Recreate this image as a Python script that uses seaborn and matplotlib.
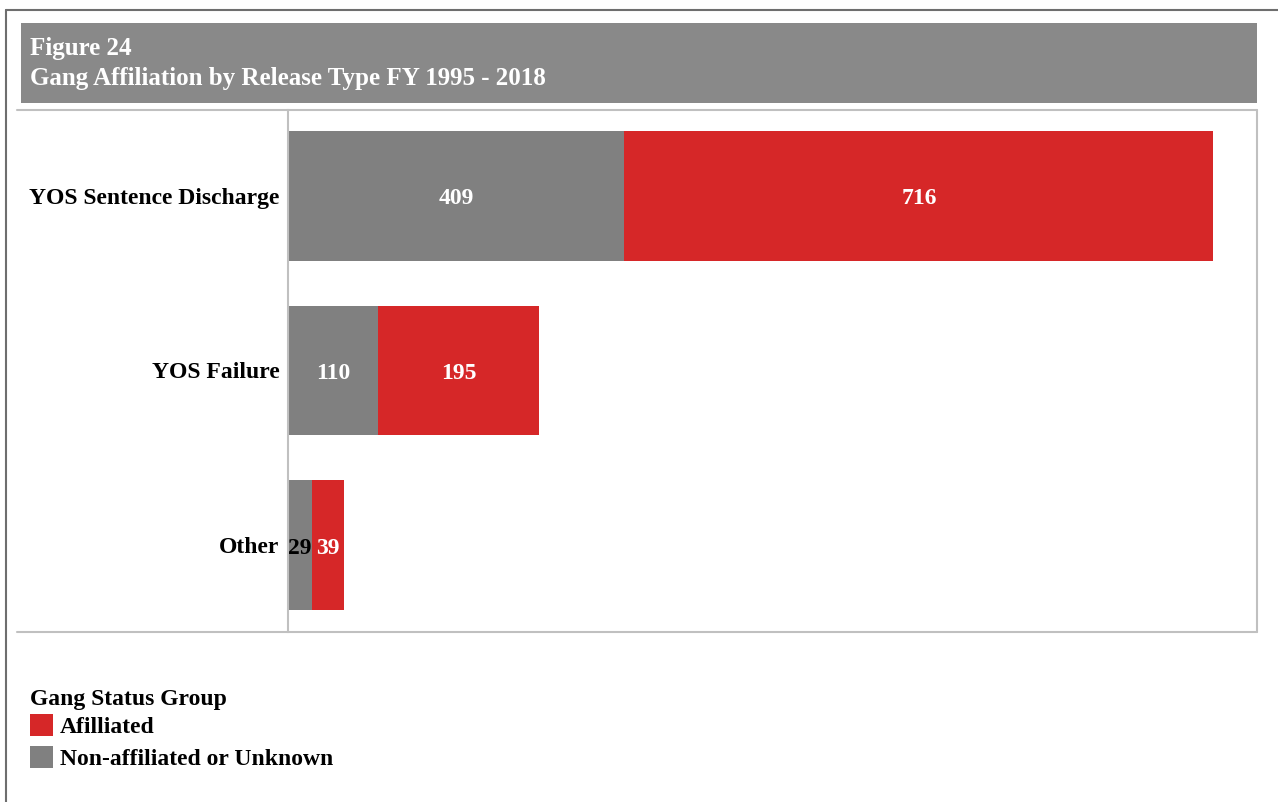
import matplotlib
matplotlib.use("Agg")
import matplotlib.pyplot as plt
from matplotlib.patches import Rectangle, Patch
from matplotlib.lines import Line2D
import pandas as pd
import seaborn as sns

# Release types and counts per gang status group
categories = ["YOS Sentence Discharge", "YOS Failure", "Other"]
non_affiliated = [409, 110, 29]
affiliated = [716, 195, 39]

title_lines = ["Figure 24", "Gang Affiliation by Release Type FY 1995 - 2018"]
legend_title = "Gang Status Group"
legend_labels = ["Afilliated", "Non-affiliated or Unknown"]

RED = "#d62728"
GREY = "#808080"
BAND = "#898989"
FRAME = "#c0c0c0"
SERIF = ["Liberation Serif", "DejaVu Serif"]

W, H = 1278, 802
sns.set_theme(style="white")
plt.rcParams["font.family"] = SERIF
plt.rcParams["text.color"] = "black"

fig = plt.figure(figsize=(W / 100, H / 100), dpi=100)
fig.patch.set_facecolor("white")


def fx(x):
    return x / W


def fy(y):
    return 1 - y / H


# Outer page border (top and left)
fig.add_artist(Line2D([fx(6), 1], [fy(10), fy(10)], color="#6e6e6e", lw=1.5))
fig.add_artist(Line2D([fx(6), fx(6)], [fy(10), 0], color="#6e6e6e", lw=1.5))

# Title band
fig.add_artist(Rectangle((fx(21), fy(103)), fx(1257) - fx(21), fy(23) - fy(103),
                         facecolor=BAND, edgecolor="none"))
fig.text(fx(30), fy(49), title_lines[0], color="white", fontsize=18,
         fontweight="bold", va="center", ha="left")
fig.text(fx(30), fy(79), title_lines[1], color="white", fontsize=18,
         fontweight="bold", va="center", ha="left")

# Chart frame lines
fig.add_artist(Line2D([fx(17), fx(1257)], [fy(110), fy(110)], color=FRAME, lw=1.5))
fig.add_artist(Line2D([fx(17), fx(1257)], [fy(632), fy(632)], color=FRAME, lw=1.5))
fig.add_artist(Line2D([fx(1257), fx(1257)], [fy(110), fy(632)], color=FRAME, lw=1.5))

ax = fig.add_axes([fx(288), fy(632), fx(1257) - fx(288), fy(110) - fy(632)])

df = pd.DataFrame({
    "category": categories,
    "non_affiliated": non_affiliated,
    "affiliated": affiliated,
})
df["total"] = df["non_affiliated"] + df["affiliated"]

bar_w = 0.743
sns.barplot(data=df, x="total", y="category", orient="h", color=RED,
            saturation=1, width=bar_w, linewidth=0, edgecolor="none", ax=ax)
sns.barplot(data=df, x="non_affiliated", y="category", orient="h", color=GREY,
            saturation=1, width=bar_w, linewidth=0, edgecolor="none", ax=ax)

ax.set_xlim(0, 1178)
ax.set_ylim(2.497, -0.491)
ax.set_xlabel("")
ax.set_ylabel("")
ax.set_xticks([])
for s in ["top", "right", "bottom"]:
    ax.spines[s].set_visible(False)
ax.spines["left"].set_color(FRAME)
ax.spines["left"].set_linewidth(1.5)
ax.tick_params(axis="y", length=0, pad=6)
for lbl in ax.get_yticklabels():
    lbl.set_fontweight("bold")
    lbl.set_fontsize(17)
    lbl.set_color("black")

# Segment value labels, nudged so the digits sit on the bar's centre line
for i, (na, af) in enumerate(zip(non_affiliated, affiliated)):
    ax.annotate(f"{na}", (na / 2, i), xytext=(0, -2.2), textcoords="offset points",
                ha="center", va="center", fontsize=17, fontweight="bold",
                color="black" if na < 35 else "white")
    ax.annotate(f"{af}", (na + af / 2, i), xytext=(0, -2.2), textcoords="offset points",
                ha="center", va="center", fontsize=17, fontweight="bold",
                color="white")

handles = [Patch(facecolor=RED, edgecolor="none"),
           Patch(facecolor=GREY, edgecolor="none")]
leg = fig.legend(handles, legend_labels, title=legend_title,
                 loc="upper left", bbox_to_anchor=(fx(30), fy(689)),
                 frameon=False, fontsize=17, handlelength=0.97, handleheight=1.02,
                 handletextpad=0.3, labelspacing=0.35, borderpad=0,
                 borderaxespad=0,
                 title_fontproperties={"weight": "bold", "size": 17,
                                       "family": SERIF})
leg._legend_box.align = "left"
leg._legend_box.sep = 3
leg.get_title().set_color("black")
for t in leg.get_texts():
    t.set_fontweight("bold")
    t.set_color("black")

fig.savefig("out.png", dpi=100)
